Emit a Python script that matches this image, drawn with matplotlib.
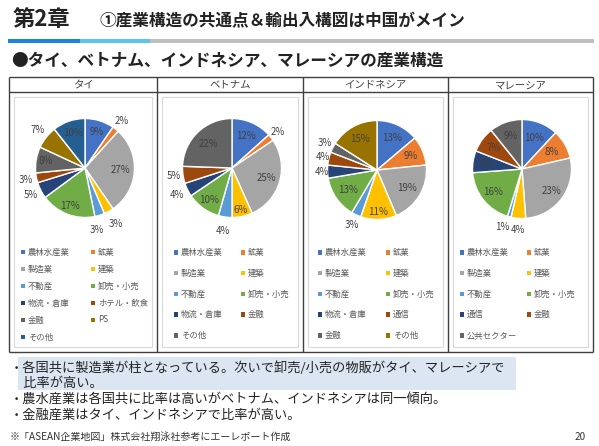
import numpy as np
import matplotlib
matplotlib.use('Agg')
import matplotlib.pyplot as plt
from matplotlib.patches import Rectangle

plt.rcParams['font.family'] = ['Noto Sans CJK JP', 'DejaVu Sans']

# ---------------- data ----------------
countries = ['タイ', 'ベトナム', 'インドネシア', 'マレーシア']

thai_labels = ['農林水産業', '鉱業', '製造業', '建築', '不動産', '卸売・小売',
               '物流・倉庫', 'ホテル・飲食', '金融', 'PS', 'その他']
thai_values = [9, 2, 27, 3, 3, 17, 5, 3, 8, 7, 10]

vietnam_labels = ['農林水産業', '鉱業', '製造業', '建築', '不動産', '卸売・小売',
                  '物流・倉庫', '金融', 'その他']
vietnam_values = [12, 2, 25, 6, 4, 10, 4, 5, 22]

indonesia_labels = ['農林水産業', '鉱業', '製造業', '建築', '不動産', '卸売・小売',
                    '物流・倉庫', '通信', '金融', 'その他']
indonesia_values = [13, 9, 19, 11, 3, 13, 4, 4, 3, 15]

malaysia_labels = ['農林水産業', '鉱業', '製造業', '建築', '不動産', '卸売・小売',
                   '通信', '金融', '公共セクター']
malaysia_values = [10, 8, 23, 4, 1, 16, 6, 7, 9]

# label placement (style): radial distance in pie radii, and angular nudge in degrees
thai_r = [0.77, 1.21, 0.71, 1.29, 1.27, 0.83, 1.23, 1.21, 0.80, 1.23, 0.74]
thai_da = [0, 0, 0, 0, -6, 0, 0, 0, 0, 0, 0]
vietnam_r = [0.70, 1.18, 0.73, 0.86, 1.28, 0.80, 1.24, 1.18, 0.68]
vietnam_da = [0] * 9
indonesia_r = [0.71, 0.73, 0.70, 0.84, 1.23, 0.71, 1.12, 1.12, 1.19, 0.71]
indonesia_da = [0] * 10
malaysia_r = [0.68, 0.70, 0.74, 1.23, 1.23, 0.74, 0.74, 0.71, 0.71]
malaysia_da = [0, 0, 0, 0, -4, 0, 0, 0, 0]

palette = ['#4472C4', '#ED7D31', '#A5A5A5', '#FFC000', '#5B9BD5', '#70AD47',
           '#264478', '#9E480E', '#636363', '#997300', '#255E91']

title_chapter = '第2章'
title_main = '①産業構造の共通点＆輸出入構図は中国がメイン'
subtitle = '●タイ、ベトナム、インドネシア、マレーシアの産業構造'
notes = ['・各国共に製造業が柱となっている。次いで卸売/小売の物販がタイ、マレーシアで',
         '　比率が高い。',
         '・農水産業は各国共に比率は高いがベトナム、インドネシアは同一傾向。',
         '・金融産業はタイ、インドネシアで比率が高い。']
footnote = '※「ASEAN企業地図」株式会社翔泳社参考にエーレポート作成'
page_no = '20'

# ---------------- figure ----------------
W, H = 599, 446
fig = plt.figure(figsize=(W / 100, H / 100), dpi=100)
fig.patch.set_facecolor('white')
bg = fig.add_axes([0, 0, 1, 1], zorder=0)
bg.set_xlim(0, W)
bg.set_ylim(H, 0)
bg.axis('off')

TXT = '#222222'
GRAY = '#404040'

# title
bg.text(13, 19, title_chapter, fontsize=16, fontweight='bold', color=TXT, va='center', ha='left')
bg.text(99, 21, title_main, fontsize=12, fontweight='bold', color=TXT, va='center', ha='left')
# bar
bg.add_patch(Rectangle((8, 39), 72, 4, color='#1A85D6', lw=0))
bg.add_patch(Rectangle((80, 39), 70, 4, color='#5BC3EE', lw=0))
bg.add_patch(Rectangle((150, 39), 444, 4, color='#BFBFBF', lw=0))
# subtitle
bg.text(11, 61, subtitle, fontsize=12, fontweight='bold', color=TXT, va='center', ha='left')

# table
col_x = [9, 157, 303, 448, 593]
t_top, t_head, t_bot = 77, 92, 352
for i in range(4):
    bg.add_patch(Rectangle((col_x[i] + 5, 97), col_x[i + 1] - col_x[i] - 10, 250,
                           facecolor='white', edgecolor='#D9D9D9', lw=0.8))
for x in col_x:
    bg.plot([x, x], [t_top, t_bot], color=GRAY, lw=1.0, solid_capstyle='butt')
for y in (t_top, t_head, t_bot):
    bg.plot([col_x[0], col_x[-1]], [y, y], color=GRAY, lw=1.0, solid_capstyle='butt')
for i, c in enumerate(countries):
    bg.text((col_x[i] + col_x[i + 1]) / 2, 85, c, fontsize=7.5, color='#404040',
            ha='center', va='center')


def colors_for(n):
    if n == 11:
        return palette[:11]
    if n == 10:
        return palette[:10]
    return palette[:8] + [palette[8]]


# pies
centers = [(85, 168), (232, 168), (377, 170), (522, 169)]
all_values = [thai_values, vietnam_values, indonesia_values, malaysia_values]
all_labels = [thai_labels, vietnam_labels, indonesia_labels, malaysia_labels]
all_r = [thai_r, vietnam_r, indonesia_r, malaysia_r]
all_da = [thai_da, vietnam_da, indonesia_da, malaysia_da]
R = 49.5
S = 80.0
for (cx, cy), vals, rs, das in zip(centers, all_values, all_r, all_da):
    ax = fig.add_axes([(cx - S) / W, 1 - (cy + S) / H, 2 * S / W, 2 * S / H], zorder=2)
    wedges, _ = ax.pie(vals, colors=colors_for(len(vals)), startangle=90, counterclock=False,
                       radius=1.0, wedgeprops=dict(edgecolor='white', linewidth=1.0))
    lim = S / R
    ax.set_xlim(-lim, lim)
    ax.set_ylim(-lim, lim)
    ax.set_aspect('equal')
    ax.axis('off')
    for w, v, r, da in zip(wedges, vals, rs, das):
        ang = np.deg2rad((w.theta1 + w.theta2) / 2 + da)
        ax.text(r * np.cos(ang), r * np.sin(ang), f'{v}%', fontsize=7, color='#404040',
                ha='center', va='center')

# legends
leg_cols = [(23, 93), (176, 243), (320, 388), (462, 529)]
leg_y0 = [252, 252.5, 252.5, 252.5]
leg_dy = [17, 20.7, 20.7, 20.7]
for k, labs in enumerate(all_labels):
    cols = colors_for(len(labs))
    for i, lab in enumerate(labs):
        x = leg_cols[k][i % 2]
        y = leg_y0[k] + (i // 2) * leg_dy[k]
        bg.add_patch(Rectangle((x - 2.2, y - 2.2), 4.4, 4.4, color=cols[i], lw=0))
        bg.text(x + 5, y, lab, fontsize=6, color='#595959', ha='left', va='center')

# bottom notes
bg.add_patch(Rectangle((18, 357), 498, 33, color='#DCE6F2', lw=0, zorder=0))
note_y = [368, 383, 399, 415]
for t, y in zip(notes, note_y):
    bg.text(10, y, t, fontsize=9.5, color=TXT, ha='left', va='center')
bg.text(10, 437, footnote, fontsize=7.2, color='#333333', ha='left', va='center')
bg.text(586, 437, page_no, fontsize=7.2, color='#333333', ha='right', va='center')

fig.savefig('out.png', dpi=100, facecolor='white')
